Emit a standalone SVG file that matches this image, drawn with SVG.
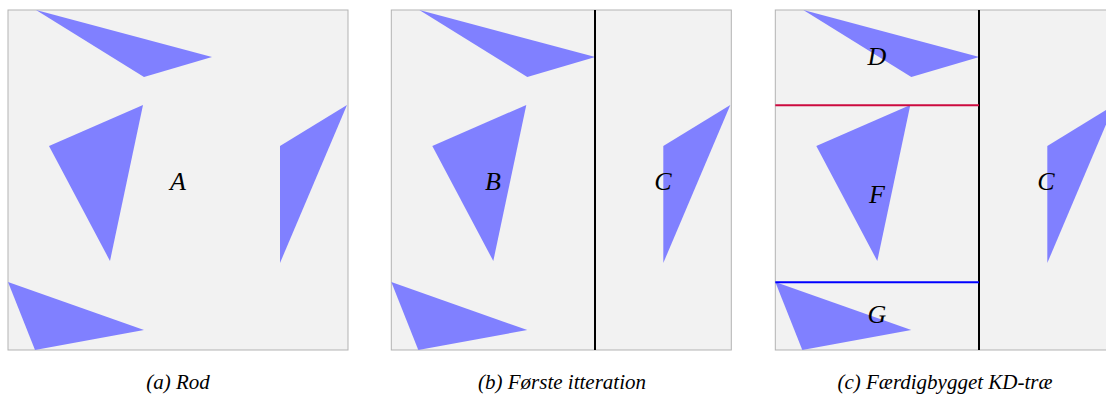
<svg xmlns="http://www.w3.org/2000/svg" xmlns:xlink="http://www.w3.org/1999/xlink" width="1106" height="396" viewBox="0 0 1106 396">
<style>
.frame{fill:#f2f2f2;stroke:#b3b3b3;stroke-width:1}
.tri{fill:#8080ff}
.lbl{font-family:"Liberation Serif","DejaVu Serif",serif;font-style:italic;font-size:26px;fill:#000;text-anchor:middle}
.cap{font-family:"Liberation Serif","DejaVu Serif",serif;font-style:italic;font-size:21px;fill:#000;text-anchor:middle}
.split{stroke:#000;stroke-width:2}
</style>
<defs>
<g id="scene">
<rect class="frame" x="8" y="10" width="340" height="340"/>
<polygon class="tri" points="36,10 212,57 144,77"/>
<polygon class="tri" points="143,105 49,146 110,261"/>
<polygon class="tri" points="347,105 280,146 280,263"/>
<polygon class="tri" points="8,282 144,330 35,350"/>
</g>
</defs>
<g id="panel-a">
<use xlink:href="#scene"/>
<text class="lbl" x="178" y="190">A</text>
<text class="cap" x="178" y="389">(a) Rod</text>
</g>
<g id="panel-b">
<use xlink:href="#scene" transform="translate(383.3,0)"/>
<text class="lbl" x="493" y="190">B</text>
<text class="lbl" x="663" y="190">C</text>
<text class="cap" x="562" y="389">(b) Første itteration</text>
</g>
<g id="panel-c">
<use xlink:href="#scene" transform="translate(767.3,0)"/>
<text class="lbl" x="877" y="65">D</text>
<text class="lbl" x="877" y="203">F</text>
<text class="lbl" x="877" y="323">G</text>
<text class="lbl" x="1046" y="190">C</text>
<text class="cap" x="945" y="389">(c) Færdigbygget KD-træ</text>
</g>
<g id="connectors">
<line class="split" x1="595" y1="10" x2="595" y2="350"/>
<line class="split" x1="979" y1="10" x2="979" y2="350"/>
<line x1="775.3" y1="105.3" x2="979" y2="105.3" stroke="#cc0a3f" stroke-width="2"/>
<line x1="775.3" y1="282.3" x2="979" y2="282.3" stroke="#0000ff" stroke-width="2"/>
</g>
</svg>
